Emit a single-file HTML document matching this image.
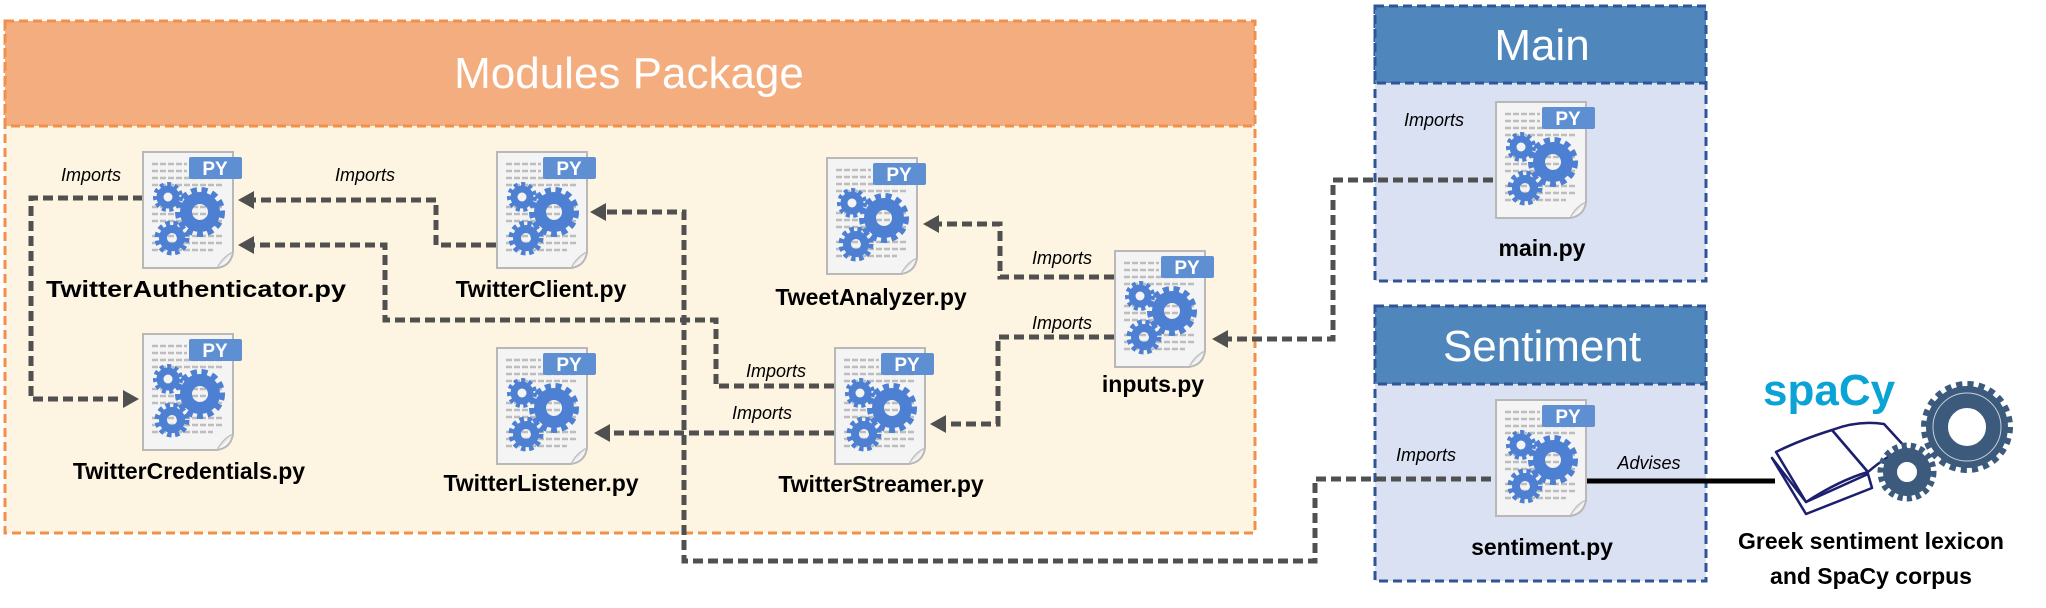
<!DOCTYPE html>
<html><head><meta charset="utf-8"><style>html,body{margin:0;padding:0;background:#fff}svg{display:block}</style></head>
<body>
<svg width="2046" height="608" viewBox="0 0 2046 608" xmlns="http://www.w3.org/2000/svg" font-family="'Liberation Sans', sans-serif">
<defs>
<g id="ic">
  <path d="M0,0 H90 V100 Q88,114 74,116 H0 Z" fill="#f4f4f4" stroke="#b8b8b8" stroke-width="2"/>
  <path d="M90,100 Q80,104 74,116" fill="#ddd" stroke="#bbb" stroke-width="1"/>
  <g stroke="#bdbdbd" stroke-width="2.5" stroke-dasharray="6 2">
    <line x1="9" y1="12" x2="44" y2="12"/><line x1="9" y1="19" x2="44" y2="19"/><line x1="9" y1="26" x2="80" y2="26"/><line x1="9" y1="33" x2="80" y2="33"/>
    <line x1="9" y1="55" x2="80" y2="55"/><line x1="9" y1="62" x2="80" y2="62"/><line x1="9" y1="69" x2="80" y2="69"/>
    <line x1="9" y1="84" x2="80" y2="84"/><line x1="9" y1="91" x2="80" y2="91"/><line x1="9" y1="98" x2="70" y2="98"/>
  </g>
  <rect x="46" y="5" width="53" height="22" rx="2" fill="#5f8fd3"/>
  <g fill="none" stroke="#4d7fd2">
    <circle cx="57" cy="60" r="14" stroke-width="12"/>
    <circle cx="57" cy="60" r="22" stroke-width="6" stroke-dasharray="6 4.5"/>
    <circle cx="25" cy="45" r="8" stroke-width="7"/>
    <circle cx="25" cy="45" r="13" stroke-width="4" stroke-dasharray="4 3.5"/>
    <circle cx="29" cy="86" r="9" stroke-width="8"/>
    <circle cx="29" cy="86" r="15" stroke-width="5" stroke-dasharray="4.5 3.5"/>
  </g>
</g>
</defs>

<rect x="5" y="21" width="1250" height="512" fill="#fdf5e1" stroke="#f0904a" stroke-width="3" stroke-dasharray="9 5"/>
<rect x="5" y="21" width="1250" height="105" fill="#f4ad7e" stroke="#f0904a" stroke-width="3" stroke-dasharray="9 5"/>
<text x="629" y="88" font-size="44" fill="#fff" text-anchor="middle">Modules Package</text>

<rect x="1375" y="6" width="331" height="275" fill="#dae1f3" stroke="#2f5597" stroke-width="3" stroke-dasharray="9 5"/>
<rect x="1375" y="6" width="331" height="77" fill="#4f87bd" stroke="#2f5597" stroke-width="3" stroke-dasharray="9 5"/>
<text x="1542" y="60" font-size="44" fill="#fff" text-anchor="middle">Main</text>

<rect x="1375" y="306" width="331" height="275" fill="#dae1f3" stroke="#2f5597" stroke-width="3" stroke-dasharray="9 5"/>
<rect x="1375" y="306" width="331" height="78" fill="#4f87bd" stroke="#2f5597" stroke-width="3" stroke-dasharray="9 5"/>
<text x="1542" y="361" font-size="44" fill="#fff" text-anchor="middle">Sentiment</text>

<g fill="none" stroke="#505050" stroke-width="5" stroke-dasharray="10 5">
  <polyline points="143,198 31,198 31,399 125,399"/>
  <polyline points="496,245 436,245 436,200 252,200"/>
  <polyline points="834,386 716,386 716,320 385,320 385,245 252,245"/>
  <polyline points="1491,479 1315,479 1315,561 684,561 684,212 604,212"/>
  <polyline points="834,433 608,433"/>
  <polyline points="1114,277 1000,277 1000,224 937,224"/>
  <polyline points="1114,337 998,337 998,424 944,424"/>
  <polyline points="1493,180 1333,180 1333,339 1226,339"/>
</g>
<g fill="#505050">
  <polygon points="139,399 123,390 123,408"/>
  <polygon points="238,200 254,191 254,209"/>
  <polygon points="238,245 254,236 254,254"/>
  <polygon points="590,212 606,203 606,221"/>
  <polygon points="594,433 610,424 610,442"/>
  <polygon points="923,224 939,215 939,233"/>
  <polygon points="930,424 946,415 946,433"/>
  <polygon points="1212,339 1228,330 1228,348"/>
</g>
<line x1="1586" y1="481" x2="1775" y2="481" stroke="#000" stroke-width="5"/>

<g font-family="'Liberation Sans', sans-serif" font-weight="bold" font-size="19" fill="#fff">
<g transform="translate(143,152)"><use href="#ic"/><text x="72" y="23" text-anchor="middle">PY</text></g>
<g transform="translate(497,152)"><use href="#ic"/><text x="72" y="23" text-anchor="middle">PY</text></g>
<g transform="translate(827,158)"><use href="#ic"/><text x="72" y="23" text-anchor="middle">PY</text></g>
<g transform="translate(1115,251)"><use href="#ic"/><text x="72" y="23" text-anchor="middle">PY</text></g>
<g transform="translate(143,334)"><use href="#ic"/><text x="72" y="23" text-anchor="middle">PY</text></g>
<g transform="translate(497,348)"><use href="#ic"/><text x="72" y="23" text-anchor="middle">PY</text></g>
<g transform="translate(835,348)"><use href="#ic"/><text x="72" y="23" text-anchor="middle">PY</text></g>
<g transform="translate(1496,102)"><use href="#ic"/><text x="72" y="23" text-anchor="middle">PY</text></g>
<g transform="translate(1496,400)"><use href="#ic"/><text x="72" y="23" text-anchor="middle">PY</text></g>
</g>

<g font-weight="bold" font-size="23" fill="#000" text-anchor="middle">
<text x="196" y="297" textLength="300" lengthAdjust="spacingAndGlyphs">TwitterAuthenticator.py</text>
<text x="541" y="297">TwitterClient.py</text>
<text x="871" y="305">TweetAnalyzer.py</text>
<text x="1153" y="392">inputs.py</text>
<text x="189" y="479">TwitterCredentials.py</text>
<text x="541" y="491">TwitterListener.py</text>
<text x="881" y="492">TwitterStreamer.py</text>
<text x="1542" y="256">main.py</text>
<text x="1542" y="555">sentiment.py</text>
<text x="1871" y="549">Greek sentiment lexicon</text>
<text x="1871" y="584">and SpaCy corpus</text>
</g>

<g font-style="italic" font-size="18" fill="#000" text-anchor="middle">
<text x="91" y="181">Imports</text>
<text x="365" y="181">Imports</text>
<text x="1062" y="264">Imports</text>
<text x="1062" y="329">Imports</text>
<text x="776" y="377">Imports</text>
<text x="762" y="419">Imports</text>
<text x="1434" y="126">Imports</text>
<text x="1426" y="461">Imports</text>
<text x="1649" y="469">Advises</text>
</g>

<text x="1763" y="405" font-weight="bold" font-size="44" fill="#09a3d5">spaCy</text>
<g fill="#fff" stroke="#1b1f6e" stroke-width="2.5" stroke-linejoin="round">
  <path d="M1772,458 L1806,514 L1872,488 L1868,474 L1806,502 Z"/>
  <path d="M1776,452 Q1800,440 1832,430 L1868,472 Q1840,480 1806,502 Z"/>
  <path d="M1832,430 Q1858,420 1884,424 L1906,448 Q1886,456 1868,472 Z"/>
</g>
<g fill="none" stroke="#3c5a7c">
  <circle cx="1967" cy="427" r="30" stroke-width="22"/>
  <circle cx="1967" cy="427" r="42" stroke-width="8" stroke-dasharray="6 5"/>
  <circle cx="1907" cy="472" r="17" stroke-width="14"/>
  <circle cx="1907" cy="472" r="26" stroke-width="7" stroke-dasharray="5 4"/>
</g>
<circle cx="1967" cy="427" r="34" fill="none" stroke="#c8d0dc" stroke-width="1"/>
</svg>
</body></html>
